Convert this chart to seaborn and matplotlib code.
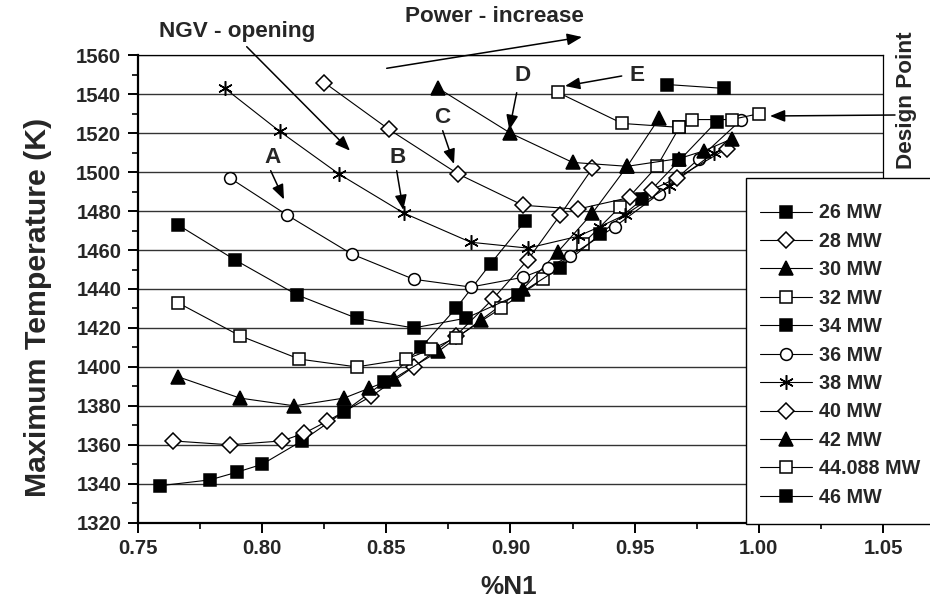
import matplotlib
matplotlib.use("Agg")
import matplotlib.pyplot as plt
from matplotlib.ticker import MultipleLocator, FormatStrFormatter
from matplotlib.patches import Rectangle
import pandas as pd
import seaborn as sns

# ---------------- data ----------------
series_labels = ["26 MW", "28 MW", "30 MW", "32 MW", "34 MW", "36 MW",
                 "38 MW", "40 MW", "42 MW", "44.088 MW", "46 MW"]

n1_26 = [0.759, 0.779, 0.790, 0.800, 0.816, 0.833, 0.849, 0.864, 0.878, 0.892, 0.906]
t_26 = [1339, 1342, 1346, 1350, 1362, 1377, 1392, 1410, 1430, 1453, 1475]

n1_28 = [0.764, 0.787, 0.808, 0.817, 0.826, 0.844, 0.861, 0.878, 0.893, 0.907, 0.920, 0.933]
t_28 = [1362, 1360, 1362, 1366, 1372, 1385, 1400, 1416, 1435, 1455, 1478, 1502]

n1_30 = [0.766, 0.791, 0.813, 0.833, 0.843, 0.853, 0.871, 0.888, 0.905, 0.919, 0.933, 0.947, 0.960]
t_30 = [1395, 1384, 1380, 1384, 1389, 1394, 1408, 1424, 1440, 1459, 1479, 1503, 1528]

n1_32 = [0.766, 0.791, 0.815, 0.838, 0.858, 0.868, 0.878, 0.896, 0.913, 0.929, 0.944, 0.959, 0.968]
t_32 = [1433, 1416, 1404, 1400, 1404, 1409, 1415, 1430, 1445, 1463, 1482, 1503, 1523]

n1_34 = [0.766, 0.789, 0.814, 0.838, 0.861, 0.882, 0.903, 0.920, 0.936, 0.953, 0.968, 0.983]
t_34 = [1473, 1455, 1437, 1425, 1420, 1425, 1437, 1451, 1468, 1486, 1506, 1526]

n1_36 = [0.787, 0.810, 0.836, 0.861, 0.884, 0.905, 0.915, 0.924, 0.942, 0.960, 0.976, 0.993]
t_36 = [1497, 1478, 1458, 1445, 1441, 1446, 1451, 1457, 1472, 1489, 1507, 1527]

n1_38 = [0.785, 0.807, 0.831, 0.857, 0.884, 0.907, 0.927, 0.936, 0.946, 0.964, 0.982]
t_38 = [1543, 1521, 1499, 1479, 1464, 1461, 1467, 1472, 1478, 1493, 1510]

n1_40 = [0.825, 0.851, 0.879, 0.905, 0.927, 0.948, 0.957, 0.967, 0.987]
t_40 = [1546, 1522, 1499, 1483, 1481, 1487, 1491, 1497, 1512]

n1_42 = [0.871, 0.900, 0.925, 0.947, 0.968, 0.978, 0.989]
t_42 = [1543, 1520, 1505, 1503, 1507, 1511, 1517]

n1_44 = [0.919, 0.945, 0.968, 0.973, 0.989, 1.000]
t_44 = [1541, 1525, 1523, 1527, 1527, 1530]

n1_46 = [0.963, 0.986]
t_46 = [1545, 1543]

x_ticks = [0.75, 0.80, 0.85, 0.90, 0.95, 1.00, 1.05]
y_ticks = [1320, 1340, 1360, 1380, 1400, 1420, 1440, 1460, 1480, 1500, 1520, 1540, 1560]

x_label = "%N1"
y_label = "Maximum Temperature (K)"

# ---------------- style ----------------
sns.set_style("white")
plt.rcParams["font.family"] = ["Liberation Sans", "DejaVu Sans"]
plt.rcParams["font.weight"] = "bold"

fig = plt.figure(figsize=(9.3, 6.02), dpi=100)
W, H = 930.0, 602.0
ax = fig.add_axes([138 / W, 1 - 522.7 / H, (883 - 138) / W, (522.7 - 55.3) / H])

all_n1 = [n1_26, n1_28, n1_30, n1_32, n1_34, n1_36, n1_38, n1_40, n1_42, n1_44, n1_46]
all_t = [t_26, t_28, t_30, t_32, t_34, t_36, t_38, t_40, t_42, t_44, t_46]

asterisk = (6, 2, 0)
styles = [
    dict(marker="s", ms=8, mfc="black"),
    dict(marker="D", ms=7.8, mfc="white"),
    dict(marker="^", ms=9.5, mfc="black"),
    dict(marker="s", ms=8, mfc="white"),
    dict(marker="s", ms=8, mfc="black"),
    dict(marker="o", ms=8.5, mfc="white"),
    dict(marker=asterisk, ms=10.5, mfc="black"),
    dict(marker="D", ms=7.8, mfc="white"),
    dict(marker="^", ms=9.5, mfc="black"),
    dict(marker="s", ms=8, mfc="white"),
    dict(marker="s", ms=8, mfc="black"),
]

for lab, xs, ys, st in zip(series_labels, all_n1, all_t, styles):
    df = pd.DataFrame({"N1": xs, "T": ys})
    sns.lineplot(data=df, x="N1", y="T", sort=False, estimator=None, ax=ax,
                 color="black", lw=0.8, marker=st["marker"], markersize=st["ms"],
                 markerfacecolor=st["mfc"], markeredgecolor="black",
                 markeredgewidth=1.1, label=lab, legend=False)

ax.set_xlim(0.75, 1.05)
ax.set_ylim(1320, 1560)
ax.set_xticks(x_ticks)
ax.set_yticks(y_ticks)
ax.xaxis.set_major_formatter(FormatStrFormatter("%.2f"))
ax.xaxis.set_minor_locator(MultipleLocator(0.025))
ax.yaxis.set_minor_locator(MultipleLocator(10))
ax.tick_params(axis="both", which="major", direction="out", length=7, width=1.4,
               labelsize=14.6, pad=5, color="black")
ax.tick_params(axis="both", which="minor", direction="out", length=4.5, width=1.2,
               color="black")
ax.tick_params(left=True, bottom=True, which="both")
for lbl in ax.get_xticklabels() + ax.get_yticklabels():
    lbl.set_fontweight("bold")

ax.yaxis.grid(True, color="#333333", lw=1.0)
ax.xaxis.grid(False)
ax.set_axisbelow(True)

for side in ["left", "bottom"]:
    ax.spines[side].set_linewidth(1.6)
    ax.spines[side].set_color("black")
for side in ["top", "right"]:
    ax.spines[side].set_linewidth(0.9)
    ax.spines[side].set_color("black")

ax.set_xlabel("")
ax.set_ylabel("")
fig.text(508.5 / W, 1 - 587 / H, x_label, ha="center", va="center",
         fontsize=18.8, fontweight="bold")
fig.text(38 / W, 1 - 307 / H, y_label, ha="center", va="center",
         rotation=90, fontsize=21.8, fontweight="bold")

# ---------------- legend ----------------
box = Rectangle((746 / W, 1 - 524 / H), (945 - 746) / W, (524 - 178) / H,
                transform=fig.transFigure, facecolor="white", edgecolor="black",
                lw=1.0, zorder=3, clip_on=False)
fig.add_artist(box)

handles, labels = ax.get_legend_handles_labels()
leg = fig.legend(handles, labels, loc="upper left",
                 bbox_to_anchor=(760 / W, 1 - 203.5 / H),
                 frameon=False, handlelength=2.64,
                 handletextpad=0.33, labelspacing=0.478, borderpad=0.0,
                 borderaxespad=0.0, prop={"weight": "bold", "size": 14.2})
leg.set_zorder(4)

# ---------------- annotations ----------------
def fp(px, py):
    return (px / W, 1 - py / H)

arrow_kw = dict(arrowstyle="-|>,head_length=0.5,head_width=0.2", color="black",
                lw=1.1, mutation_scale=18, shrinkA=0, shrinkB=0)

txt_kw = dict(fontsize=16.2, fontweight="bold", ha="center", va="center")

fig.text(*fp(494.5, 16.5), "Power - increase", **txt_kw)
ax.annotate("", xy=fp(582, 37), xytext=fp(386.7, 68.3),
            xycoords="figure fraction", textcoords="figure fraction",
            arrowprops=arrow_kw, annotation_clip=False)

fig.text(*fp(236.7, 31), "NGV - opening", **txt_kw)
ax.annotate("", xy=fp(350, 150.7), xytext=fp(246.7, 46.7),
            xycoords="figure fraction", textcoords="figure fraction",
            arrowprops=arrow_kw, annotation_clip=False)

fig.text(*fp(906.5, 100), "Design Point", rotation=90, **txt_kw)
ax.annotate("", xy=fp(770, 116), xytext=fp(895, 115),
            xycoords="figure fraction", textcoords="figure fraction",
            arrowprops=arrow_kw, annotation_clip=False)

letters = ["A", "B", "C", "D", "E"]
letter_pos = [(272.2, 157.8), (397.5, 157.8), (442.3, 117.5), (523, 75.8), (637, 75.5)]
arrow_from = [(270.7, 170.7), (396.7, 170.7), (442.7, 130.7), (516.7, 92.7), (621.7, 76)]
arrow_to = [(284, 199.5), (403.3, 210), (454, 164), (509.3, 130), (565, 86)]
for L, p, a0, a1 in zip(letters, letter_pos, arrow_from, arrow_to):
    fig.text(*fp(*p), L, **txt_kw)
    ax.annotate("", xy=fp(*a1), xytext=fp(*a0),
                xycoords="figure fraction", textcoords="figure fraction",
                arrowprops=arrow_kw, annotation_clip=False)

fig.savefig("out.png", dpi=100)
